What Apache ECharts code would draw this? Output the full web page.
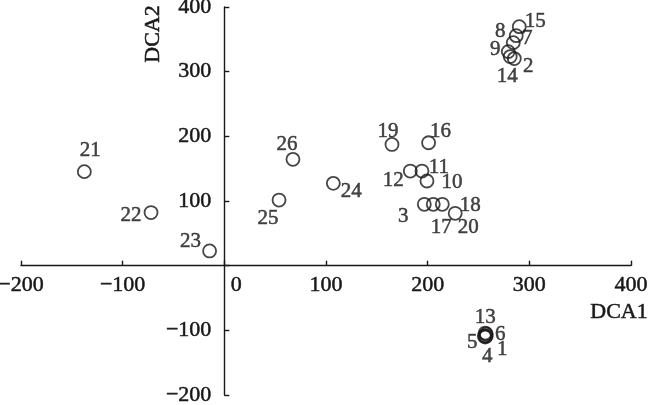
<!DOCTYPE html>
<html><head><meta charset="utf-8">
<script src="https://cdn.jsdelivr.net/npm/echarts@6/dist/echarts.min.js"></script>
<style>html,body{margin:0;padding:0;background:#fff}#c{width:650px;height:405px}</style>
</head><body><div id="c"></div>
<script>
// Data
const sampleIds = ['1','2','3','4','5','6','7','8','9','10','11','12','13','14','15','16','17','18','19','20','21','22','23','24','25','26'];
const dca1 = [257.6,285.2,196.7,256.6,255.7,257.6,287.1,284.2,279.3,199.3,194.4,182.9,256.6,281.2,290.1,200.9,205.5,227.1,164.9,214.4,-137.7,-72.1,-14.5,107.2,53.8,67.5];
const dca2 = [-108.8,320.2,94.9,-110.3,-108.8,-105.7,355.7,344.9,331.0,130.9,146.3,146.3,-104.2,323.3,369.6,190.1,94.9,81.0,187.5,94.9,145.4,82.1,22.8,127.3,101.5,164.4];
const xTicks = [-200,-100,0,100,200,300,400];
const yTicks = [-200,-100,0,100,200,300,400];

// Layout (label offsets in px, not data)
const labelOffsets = {
  '1':[16,13],'2':[14,8],'3':[-21,12],'4':[2,19],'5':[-12,6],'6':[14,0],'7':[11,3],'8':[-13,-11],
  '9':[-13,-2],'10':[25,1],'11':[17,-4],'12':[-17,9],'13':[0,-16],'14':[-3,20],'15':[16,-5],'16':[12,-11],
  '17':[8,23],'18':[15,-8],'19':[-4,-13],'20':[26,23],'21':[6,-21],'22':[-20,3],'23':[-19,-9],'24':[18,8],
  '25':[-11,18],'26':[-6,-15]
};
const ink = '#1a1718';
const font = 'Liberation Serif, Times New Roman, serif';
const minus = v => String(v).replace('-', '\u2212');
const G = { left: 21, right: 19, top: 7, bottom: 10 };
const thick = { textBorderColor: ink, textBorderWidth: 0.5 };

const points = sampleIds.map((id, i) => ({
  name: id,
  value: [dca1[i], dca2[i]],
  label: { offset: labelOffsets[id] }
}));

const chart = echarts.init(document.getElementById('c'), null, {renderer:'canvas'});
const axisCommon = {
  type: 'value', interval: 100,
  splitLine: { show: false },
  axisLine: { onZero: false, lineStyle: { color: ink, width: 1.4 } },
  axisTick: { show: true, inside: true, length: 5, lineStyle: { color: ink, width: 1.4 } }
};
chart.setOption({
  animation: false,
  backgroundColor: '#fff',
  grid: Object.assign({ containLabel: false, outerBoundsMode: 'none' }, G),
  xAxis: Object.assign({}, axisCommon, {
    min: xTicks[0], max: xTicks[xTicks.length-1],
    axisLabel: Object.assign({
      color: ink, fontFamily: font, fontSize: 22, margin: 9, hideOverlap: false,
      formatter: v => v === 0 ? '{z|0}' : minus(v),
      rich: { z: Object.assign({ fontFamily: font, fontSize: 22, color: ink, padding: [0,0,0,24] }, thick) }
    }, thick)
  }),
  yAxis: Object.assign({}, axisCommon, {
    min: yTicks[0], max: yTicks[yTicks.length-1],
    axisLabel: Object.assign({
      color: ink, fontFamily: font, fontSize: 22, margin: 13, hideOverlap: false,
      formatter: v => v === 0 ? '' : minus(v)
    }, thick)
  }),
  graphic: [
    { type: 'text', x: 619, y: 312, style: Object.assign({ text: 'DCA1', font: '22px ' + font, fill: ink, stroke: ink, lineWidth: 0.5, textAlign: 'center', textVerticalAlign: 'middle' }) },
    { type: 'text', x: 153, y: 34, rotation: Math.PI/2, style: { text: 'DCA2', font: '22px ' + font, fill: ink, stroke: ink, lineWidth: 0.5, textAlign: 'center', textVerticalAlign: 'middle' } }
  ],
  series: [{
    type: 'scatter',
    symbol: 'circle',
    symbolSize: 13,
    itemStyle: { color: 'rgba(255,255,255,0)', borderColor: ink, borderWidth: 1.8 },
    label: Object.assign({
      show: true, position: 'inside', formatter: p => p.name,
      color: ink, fontFamily: font, fontSize: 21
    }, thick),
    emphasis: { disabled: true },
    data: points
  }]
});
// Move both axes (line, ticks, labels) so they cross at the data origin
const origin = chart.convertToPixel({ gridIndex: 0 }, [0, 0]);
const H = chart.getHeight();
chart.setOption({
  xAxis: { offset: -((H - G.bottom) - origin[1]) },
  yAxis: { offset: -(origin[0] - G.left) }
});
</script></body></html>
